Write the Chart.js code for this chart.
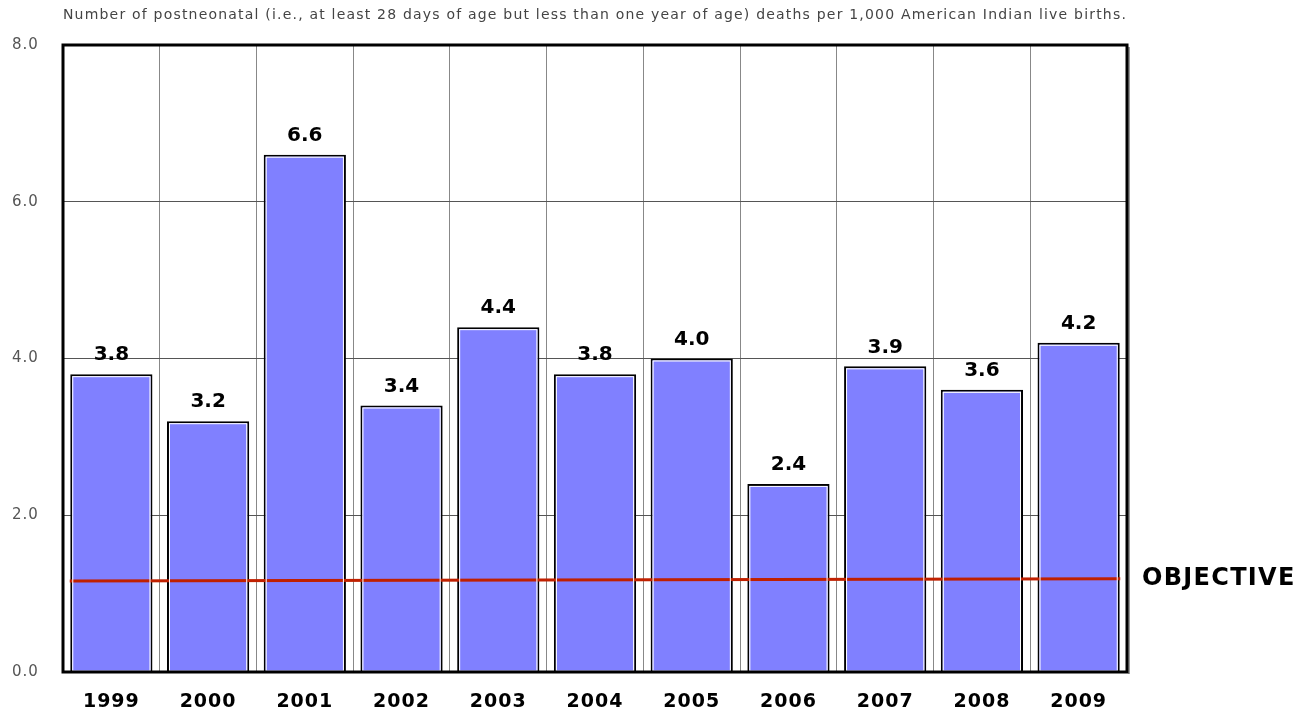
<!DOCTYPE html>
<html>
<head>
<meta charset="utf-8">
<script src="https://cdn.jsdelivr.net/npm/chart.js@4/dist/chart.umd.min.js"></script>
<style>
  html, body { margin: 0; padding: 0; background: #fff; }
  #wrap { width: 1302px; height: 714px; }
</style>
</head>
<body>
<div id="wrap"><canvas id="chart" width="1302" height="714"></canvas></div>
<script>
// chart data
const years = ["1999", "2000", "2001", "2002", "2003", "2004", "2005", "2006", "2007", "2008", "2009"];
const deaths = [3.8, 3.2, 6.6, 3.4, 4.4, 3.8, 4.0, 2.4, 3.9, 3.6, 4.2];
const objectiveX = [-0.43, 10.43];
const objectiveY = [1.16, 1.19];
const yTicks = [0, 2, 4, 6, 8];
const titleText = "Number of postneonatal (i.e., at least 28 days of age but less than one year of age) deaths per 1,000 American Indian live births.";

// spaced lettering for the light texts
const spacingPlugin = {
    id: "spacing",
    beforeDraw(chart) {
        chart.ctx.letterSpacing = "1px";
    }
};

// bar value labels, inner highlight, frame, title and objective tag
const decorPlugin = {
    id: "decor",
    afterDatasetsDraw(chart) {
        const ctx = chart.ctx;
        const area = chart.chartArea;
        const bars = chart.getDatasetMeta(0).data;

        ctx.save();
        ctx.letterSpacing = "0px";
        bars.forEach((bar) => {
            const half = bar.width / 2;
            ctx.strokeStyle = "#ffffff";
            ctx.lineWidth = 1;
            ctx.strokeRect(bar.x - half + 2.5, bar.y + 2.5, bar.width - 5, bar.base - bar.y - 3);
        });

        ctx.font = "bold 20px 'DejaVu Sans'";
        ctx.fillStyle = "#000";
        ctx.textAlign = "center";
        ctx.textBaseline = "middle";
        bars.forEach((bar, i) => {
            ctx.fillText(deaths[i].toFixed(1), bar.x, bar.y - 19);
        });

        // frame
        ctx.strokeStyle = "#999";
        ctx.lineWidth = 2;
        ctx.beginPath();
        ctx.moveTo(area.right + 2, area.top + 2);
        ctx.lineTo(area.right + 2, area.bottom + 2);
        ctx.stroke();
        ctx.strokeStyle = "#000";
        ctx.lineWidth = 3;
        ctx.strokeRect(area.left, area.top, area.right - area.left, area.bottom - area.top);

        // objective tag
        const line = chart.getDatasetMeta(1).data;
        const end = line[line.length - 1];
        ctx.font = "bold 24px 'DejaVu Sans'";
        ctx.textAlign = "left";
        ctx.letterSpacing = "1.3px";
        ctx.fillText("OBJECTIVE", area.right + 15, end.y);

        // title, centred over the plot
        ctx.font = "14px 'DejaVu Sans'";
        ctx.fillStyle = "#444";
        ctx.textAlign = "center";
        ctx.letterSpacing = "1.2px";
        ctx.fillText(titleText, (area.left + area.right) / 2, 15);
        ctx.restore();
    }
};

new Chart(document.getElementById("chart"), {
    type: "bar",
    data: {
        labels: years,
        datasets: [
            {
                label: "Deaths",
                data: deaths,
                backgroundColor: "#8080ff",
                borderColor: "#000",
                borderWidth: 2,
                barPercentage: 0.85,
                categoryPercentage: 1,
                grouped: false,
                order: 1
            },
            {
                type: "line",
                label: "Objective",
                xAxisID: "xLin",
                data: objectiveX.map((x, i) => ({ x: x, y: objectiveY[i] })),
                borderColor: "#c02000",
                borderWidth: 3,
                pointRadius: 0,
                fill: false,
                order: 0
            }
        ]
    },
    options: {
        responsive: false,
        animation: false,
        layout: {
            padding: { left: 12, right: 175, top: 45, bottom: 0 }
        },
        plugins: {
            legend: { display: false },
            tooltip: { enabled: false },
            title: { display: false }
        },
        scales: {
            x: {
                grid: {
                    offset: true,
                    color: "#888",
                    lineWidth: 1,
                    drawTicks: false
                },
                border: { display: false },
                ticks: {
                    color: "#000",
                    padding: 19,
                    font: { family: "'DejaVu Sans'", size: 19, weight: "bold" }
                },
                afterFit(scale) { scale.height = 42; }
            },
            xLin: {
                type: "linear",
                display: false,
                offset: false,
                grid: { offset: false },
                min: -0.5,
                max: 10.5
            },
            y: {
                min: 0,
                max: 8,
                afterBuildTicks(scale) {
                    scale.ticks = yTicks.map(v => ({ value: v }));
                },
                grid: {
                    color: "#555",
                    lineWidth: 1,
                    drawTicks: false
                },
                border: { display: false },
                ticks: {
                    color: "#555",
                    crossAlign: "far",
                    padding: 8,
                    font: { family: "'DejaVu Sans'", size: 15, weight: "normal" },
                    callback: v => Number(v).toFixed(1)
                },
                afterFit(scale) { scale.width = 51; }
            }
        }
    },
    plugins: [spacingPlugin, decorPlugin]
});
</script>
</body>
</html>
